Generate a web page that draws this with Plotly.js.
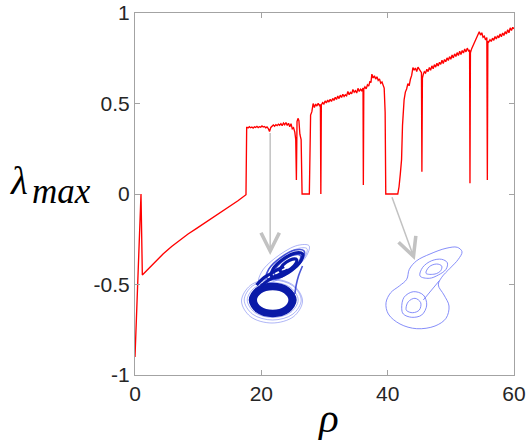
<!DOCTYPE html>
<html>
<head>
<meta charset="utf-8">
<script src="https://cdn.plot.ly/plotly-3.0.1.min.js"></script>
<style>
  html, body { margin: 0; padding: 0; background: #ffffff; }
  #chart { width: 528px; height: 440px; }
</style>
</head>
<body>
<div id="chart"></div>
<script>
// Largest Lyapunov exponent of the Lorenz system against rho
const rho = [
  0, 0.95, 1.16, 2.37, 3.43, 4.48, 5.8, 7.12, 8.4, 9.76,
  11.1, 12.4, 13.7, 15.04, 16.3, 17.57, 17.68, 17.9, 18.1, 18.3,
  18.5, 18.7, 18.9, 19.1, 19.3, 19.5, 19.7, 19.9, 20.1, 20.3,
  20.5, 20.7, 20.9, 21.1, 21.3, 21.5, 21.7, 21.9, 22.1, 22.3,
  22.5, 22.7, 22.9, 23.1, 23.3, 23.5, 23.7, 23.9, 24.1, 24.3,
  24.5, 24.7, 24.9, 25.1, 25.3, 25.45, 25.55, 25.65, 25.8, 25.95,
  26.1, 26.3, 26.45, 27.6, 27.8, 28.0, 28.2, 28.4, 28.6, 28.8,
  29.0, 29.2, 29.35, 29.42, 29.5, 29.7, 29.9, 30.1, 30.3, 30.5,
  30.7, 30.9, 31.1, 31.3, 31.5, 31.7, 31.9, 32.1, 32.3, 32.5,
  32.7, 32.9, 33.1, 33.3, 33.5, 33.7, 33.9, 34.1, 34.3, 34.5,
  34.7, 34.9, 35.1, 35.3, 35.5, 35.7, 35.9, 36.1, 36.15, 36.22,
  36.4, 36.6, 36.8, 37.0, 37.2, 37.35, 37.5, 37.7, 37.9, 38.1,
  38.3, 38.5, 38.7, 38.9, 39.1, 39.3, 39.45, 39.6, 39.7, 41.6,
  41.8, 42.0, 42.2, 42.35, 42.45, 42.6, 42.8, 43.0, 43.2, 43.4,
  43.6, 43.8, 44.0, 44.2, 44.4, 44.6, 44.8, 45.0, 45.2, 45.35,
  45.42, 45.5, 45.65, 45.8, 46.0, 46.2, 46.4, 46.6, 46.8, 47.0,
  47.2, 47.4, 47.6, 47.8, 48.0, 48.2, 48.4, 48.6, 48.8, 49.0,
  49.2, 49.4, 49.6, 49.8, 50.0, 50.2, 50.4, 50.6, 50.8, 51.0,
  51.2, 51.4, 51.6, 51.8, 52.0, 52.2, 52.4, 52.6, 52.8, 52.97,
  53.03, 53.1, 53.3, 53.5, 53.7, 53.9, 54.1, 54.3, 54.5, 54.7,
  54.9, 55.1, 55.3, 55.5, 55.7, 55.78, 55.86, 56.0, 56.2, 56.4,
  56.6, 56.8, 57.0, 57.2, 57.4, 57.6, 57.8, 58.0, 58.2, 58.4,
  58.6, 58.8, 59.0, 59.2, 59.4, 59.6, 59.8, 60.0
];

const lambdaMax = [
  -0.90, 0.00, -0.448, -0.404, -0.370, -0.330, -0.290, -0.254, -0.221, -0.190,
  -0.159, -0.129, -0.099, -0.070, -0.037, -0.004, 0.370, 0.365, 0.372, 0.366,
  0.370, 0.364, 0.371, 0.368, 0.374, 0.367, 0.372, 0.369, 0.376, 0.370,
  0.373, 0.366, 0.371, 0.362, 0.345, 0.368, 0.375, 0.381, 0.374, 0.383,
  0.378, 0.386, 0.380, 0.389, 0.377, 0.392, 0.383, 0.395, 0.379, 0.391,
  0.372, 0.388, 0.360, 0.366, 0.342, 0.300, 0.077, 0.400, 0.418, 0.405,
  0.330, 0.300, 0.000, 0.000, 0.436, 0.455, 0.500, 0.478, 0.497, 0.486,
  0.501, 0.489, 0.495, 0.000, 0.492, 0.505, 0.497, 0.514, 0.503, 0.519,
  0.508, 0.523, 0.511, 0.528, 0.517, 0.534, 0.522, 0.541, 0.527, 0.546,
  0.533, 0.551, 0.539, 0.548, 0.542, 0.566, 0.549, 0.561, 0.553, 0.577,
  0.562, 0.571, 0.558, 0.584, 0.566, 0.579, 0.571, 0.586, 0.050, 0.580,
  0.592, 0.581, 0.603, 0.596, 0.624, 0.615, 0.662, 0.641, 0.653, 0.635,
  0.648, 0.628, 0.636, 0.612, 0.619, 0.596, 0.585, 0.450, 0.000, 0.000,
  0.040, 0.110, 0.190, 0.380, 0.450, 0.520, 0.563, 0.580, 0.610, 0.598,
  0.634, 0.655, 0.698, 0.684, 0.696, 0.676, 0.701, 0.687, 0.680, 0.670,
  0.123, 0.640, 0.662, 0.675, 0.668, 0.689, 0.676, 0.699, 0.684, 0.708,
  0.692, 0.715, 0.701, 0.722, 0.707, 0.728, 0.716, 0.739, 0.721, 0.743,
  0.731, 0.752, 0.738, 0.759, 0.744, 0.768, 0.752, 0.774, 0.760, 0.781,
  0.765, 0.789, 0.771, 0.793, 0.779, 0.801, 0.785, 0.806, 0.790, 0.795,
  0.060, 0.780, 0.803, 0.818, 0.833, 0.846, 0.862, 0.874, 0.896, 0.878,
  0.891, 0.866, 0.872, 0.851, 0.865, 0.077, 0.845, 0.839, 0.852, 0.843,
  0.861, 0.849, 0.870, 0.856, 0.875, 0.863, 0.884, 0.869, 0.889, 0.876,
  0.897, 0.884, 0.908, 0.891, 0.918, 0.903, 0.921, 0.912
];

const xTicks = [0, 20, 40, 60];
const yTicks = [-1, -0.5, 0, 0.5, 1];
const yTickText = ['-1', '-0.5', '0', '0.5', '1'];

// Chaotic attractor near rho = 21 (projection, passes separated by null)
const lowDarkX = [60.2, 55.1, 42.7, 30.3, 25.2, 30.3, 42.7, 55.1, 60.2, null,
                  62.5, 56.7, 42.7, 28.7, 22.9, 28.7, 42.7, 56.7, 62.5, null,
                  64.9, 58.4, 42.7, 27.0, 20.5, 27.0, 42.7, 58.4, 64.9];
const lowDarkY = [30, 38.2, 41.5, 38.2, 30, 21.8, 18.5, 21.8, 30, null,
                  30, 39.7, 43.6, 39.7, 30, 20.3, 16.4, 20.3, 30, null,
                  30, 40.9, 45.4, 40.9, 30, 19.1, 14.6, 19.1, 30];

const upDarkX = [72.4, 65.0, 52.9, 43.2, 41.6, 49.0, 61.1, 70.8, 72.4, null,
                 66.6, 62.5, 56.1, 51.1, 50.4, 54.5, 60.9, 65.9, 66.6, null,
                 26.5, 33, 40, 47, 54, null,
                 31, 38, 45, 52, 58];
const upDarkY = [76.2, 76.9, 70.7, 61.1, 53.8, 53.1, 59.3, 68.9, 76.2, null,
                 70.4, 70.9, 67.7, 62.6, 58.6, 58.1, 61.3, 66.4, 70.4, null,
                 45, 51.5, 56, 60, 63.5, null,
                 44, 49.5, 53.5, 57, 60];

const upMidX = [74.1, 65.1, 50.5, 38.8, 36.9, 45.9, 60.5, 72.2, 74.1, null,
                70.4, 64.1, 54.0, 45.9, 44.6, 50.9, 61.0, 69.1, 70.4, null,
                64.9, 66.2, 68.5, 72.5];
const upMidY = [79.0, 79.9, 72.4, 60.8, 52.0, 51.1, 58.6, 70.2, 79.0, null,
                74.4, 75.1, 69.9, 61.8, 55.6, 54.9, 60.1, 68.2, 74.4, null,
                36, 45, 54, 64];

const chaosLightX = [68.2, 60.7, 42.7, 24.7, 17.2, 24.7, 42.7, 60.7, 68.2, null,
                     71.2, 62.9, 42.7, 22.5, 14.2, 22.5, 42.7, 62.9, 71.2, null,
                     72.5, 63.6, 42.0, 20.4, 11.5, 20.4, 42.0, 63.6, 72.5, null,
                     79.1, 67.6, 48.1, 32.1, 28.9, 40.4, 59.9, 75.9, 79.1, null,
                     77.0, 67.5, 51.3, 37.8, 35.0, 44.5, 60.7, 74.2, 77.0];
const chaosLightY = [30, 42.4, 47.5, 42.4, 30, 17.6, 12.5, 17.6, 30, null,
                     30, 44.1, 50, 44.1, 30, 15.9, 10, 15.9, 30, null,
                     29, 44.6, 51, 44.6, 29, 13.4, 7, 13.4, 29, null,
                     84.2, 84.6, 74.1, 58.9, 47.8, 47.4, 57.9, 73.1, 84.2, null,
                     81.3, 81.4, 72.5, 59.8, 50.7, 50.6, 59.5, 72.2, 81.3];

// Periodic orbit near rho = 44 (same projection)
const periodicX = [36.7, 39.3, 46.7, 60, 76, 87.3, 92, 88.3, 80, 71.7, 68.3, 74, 79, 76, 65, 46.7, 30, 18.3, 16, 20.7, 29.3, 36.7, null,
                   50, 52.7, 61.7, 71.7, 77.3, 76, 68.3, 59.3, 50, null,
                   56, 59.3, 66.7, 71.7, 70.7, 65, 56, null,
                   31.7, 34, 43.3, 53.3, 56.7, 51.7, 41.7, 33.3, 31.7, null,
                   36, 38.3, 45, 50.7, 49.3, 42.7, 36.7, 36, null,
                   53.3, 69.3];
const periodicY = [60.7, 70.7, 79.3, 86, 91.7, 92.7, 88.3, 80.7, 71.7, 62.7, 55, 45, 34, 21.7, 14, 11.3, 16, 26, 37.3, 47.3, 54, 60.7, null,
                   64, 72.7, 79.3, 80.7, 77.3, 70.7, 65, 61.7, 64, null,
                   66.7, 73.3, 76, 74, 69.3, 66, 66.7, null,
                   31.7, 42.7, 48.3, 45, 35, 25, 22.7, 26, 31.7, null,
                   31.7, 38.3, 41.7, 37.3, 30, 27.3, 29.3, 31.7, null,
                   40, 59.3];

const tickFont = { family: 'Liberation Sans, Arial, sans-serif', size: 21, color: '#262626' };
const axisGrey = '#a3a3a3';
const darkBlue = '#0a1aa8';

const traces = [
  { x: rho, y: lambdaMax, type: 'scatter', mode: 'lines',
    line: { color: '#ff0000', width: 1.35 }, xaxis: 'x', yaxis: 'y', hoverinfo: 'skip' },
  { x: chaosLightX, y: chaosLightY, type: 'scatter', mode: 'lines', connectgaps: false,
    line: { color: 'rgba(70,85,235,0.55)', width: 0.8, shape: 'spline' }, xaxis: 'x2', yaxis: 'y2' },
  { x: upMidX, y: upMidY, type: 'scatter', mode: 'lines', connectgaps: false,
    line: { color: 'rgba(30,45,205,0.8)', width: 1.6, shape: 'spline' }, xaxis: 'x2', yaxis: 'y2' },
  { x: lowDarkX, y: lowDarkY, type: 'scatter', mode: 'lines', connectgaps: false,
    line: { color: darkBlue, width: 3.6, shape: 'spline' }, xaxis: 'x2', yaxis: 'y2' },
  { x: upDarkX, y: upDarkY, type: 'scatter', mode: 'lines', connectgaps: false,
    line: { color: darkBlue, width: 3.2, shape: 'spline' }, xaxis: 'x2', yaxis: 'y2' },
  { x: periodicX, y: periodicY, type: 'scatter', mode: 'lines', connectgaps: false,
    line: { color: 'rgb(112,122,248)', width: 0.85, shape: 'spline' }, xaxis: 'x3', yaxis: 'y3' }
];

const insetAxis = (domain, range) => ({ domain: domain, range: range, visible: false, fixedrange: true });

const layout = {
  width: 528, height: 440,
  margin: { l: 135, r: 14, t: 13, b: 65 },
  paper_bgcolor: '#ffffff',
  plot_bgcolor: 'rgba(0,0,0,0)',
  showlegend: false,
  xaxis: {
    range: [0, 60], tickvals: xTicks, ticks: 'inside', ticklen: 5, tickcolor: axisGrey,
    showline: true, linecolor: axisGrey, linewidth: 1, mirror: 'ticks',
    showgrid: false, zeroline: false, tickfont: tickFont, fixedrange: true
  },
  yaxis: {
    range: [-1, 1], tickvals: yTicks, ticktext: yTickText, ticks: 'inside', ticklen: 5, tickcolor: axisGrey,
    showline: true, linecolor: axisGrey, linewidth: 1, mirror: 'ticks',
    showgrid: false, zeroline: false, tickfont: tickFont, fixedrange: true
  },
  xaxis2: Object.assign(insetAxis([0.2507, 0.4881], [0, 90]), { anchor: 'y2' }),
  yaxis2: Object.assign(insetAxis([0.1243, 0.4006], [0, 100]), { anchor: 'x2' }),
  xaxis3: Object.assign(insetAxis([0.6201, 0.9103], [0, 110]), { anchor: 'y3' }),
  yaxis3: Object.assign(insetAxis([0.0967, 0.3729], [0, 100]), { anchor: 'x3' }),
  annotations: [
    { xref: 'x', yref: 'y', axref: 'x', ayref: 'y', x: 21.4, y: -0.337, ax: 21.4, ay: 0.345,
      text: '', showarrow: true, arrowhead: 5, arrowsize: 2.4, arrowwidth: 1.5, arrowcolor: '#c2c2c2' },
    { xref: 'x', yref: 'y', axref: 'x', ayref: 'y', x: 44.3, y: -0.365, ax: 40.6, ay: -0.01,
      text: '', showarrow: true, arrowhead: 5, arrowsize: 2.4, arrowwidth: 1.5, arrowcolor: '#c2c2c2' },
    { xref: 'paper', yref: 'paper', x: -0.335, xanchor: 'left', y: 0.538, yanchor: 'middle',
      text: '<i>λ</i>', showarrow: false,
      font: { family: 'Liberation Serif, serif', size: 39, color: '#000000' } },
    { xref: 'paper', yref: 'paper', x: -0.277, xanchor: 'left', y: 0.507, yanchor: 'middle',
      text: '<i>max</i>', showarrow: false,
      font: { family: 'Liberation Serif, serif', size: 35, color: '#000000' } },
    { xref: 'paper', yref: 'paper', x: 0.509, xanchor: 'center', y: -0.12, yanchor: 'middle',
      text: '<i>ρ</i>', showarrow: false,
      font: { family: 'Liberation Serif, serif', size: 41, color: '#000000' } }
  ]
};

Plotly.newPlot('chart', traces, layout, { staticPlot: true, displayModeBar: false });
</script>
</body>
</html>
